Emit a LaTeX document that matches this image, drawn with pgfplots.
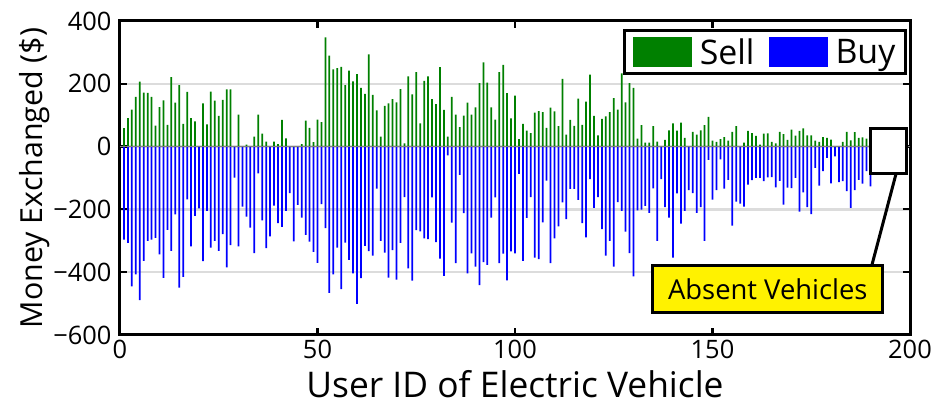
\documentclass[border=0pt]{standalone}
\usepackage{pgfplots}
\pgfplotsset{compat=1.18}
\usepackage{pgfplotstable}
\usepackage{fontspec}
\setmainfont{Open Sans}
\definecolor{sellgreen}{RGB}{0,128,0}
\definecolor{buyblue}{RGB}{0,0,255}
\definecolor{gridgray}{RGB}{220,220,220}

\pgfplotstableread{
u sell buy
1 59 -296
2 91 -307
3 118 -445
4 158 -407
5 207 -489
6 172 -364
7 171 -300
8 158 -296
9 67 -291
10 126 -343
11 147 -418
12 69 -265
13 221 -332
14 140 -216
15 196 -449
16 72 -415
17 174 -168
18 91 -318
19 80 -221
20 0 -197
21 138 -365
22 71 -205
23 175 -322
24 146 -300
25 98 -332
26 149 -279
27 182 -385
28 182 -314
29 0 -99
30 102 -318
31 0 -191
32 6 -223
33 0 -258
34 32 -339
35 102 -85
36 41 -235
37 16 -323
38 0 -286
39 16 -188
40 8 -244
41 85 -256
42 26 -205
43 0 -148
44 0 -302
45 0 -186
46 8 -226
47 83 -281
48 60 -303
49 14 -335
50 86 -370
51 78 -183
52 348 -260
53 290 -466
54 246 -407
55 250 -322
56 254 -454
57 196 -306
58 242 -361
59 208 -404
60 231 -501
61 187 -419
62 168 -316
63 294 -333
64 165 -347
65 115 -134
66 32 -300
67 130 -338
68 138 -417
69 151 -330
70 141 -424
71 183 -307
72 10 -161
73 224 -388
74 166 -427
75 237 -266
76 74 -270
77 209 -292
78 224 -295
79 151 -162
80 135 -304
81 253 -357
82 117 -412
83 32 -28
84 158 -242
85 102 -371
86 62 -90
87 99 -212
88 140 -404
89 102 -340
90 125 -382
91 202 -441
92 268 -368
93 204 -377
94 125 -226
95 86 -162
96 237 -371
97 260 -341
98 170 -426
99 90 -334
100 162 -340
101 24 -87
102 72 -364
103 51 -227
104 43 -161
105 108 -354
106 113 -358
107 110 -241
108 60 -108
109 124 -371
110 112 -292
111 65 -254
112 216 -178
113 38 -231
114 85 -135
115 66 -135
116 153 -170
117 69 -244
118 143 -289
119 229 -104
120 98 -195
121 36 -161
122 88 -263
123 96 -347
124 110 -300
125 154 -382
126 118 -177
127 233 -205
128 141 -271
129 202 -339
130 187 -413
131 25 -203
132 68 -201
133 13 -189
134 13 -211
135 65 -133
136 16 -300
137 0 -104
138 21 -193
139 52 -226
140 74 -354
141 51 -149
142 76 -245
143 28 -205
144 0 -139
145 47 -148
146 38 -211
147 52 -193
148 68 -300
149 95 -42
150 19 -169
151 15 -139
152 24 -41
153 30 -134
154 19 -106
155 47 -252
156 65 -175
157 0 -182
158 13 -191
159 50 -121
160 43 -107
161 34 -100
162 6 -100
163 41 -110
164 42 -98
165 15 -97
166 10 -130
167 47 -109
168 40 -185
169 21 -131
170 54 -132
171 35 -100
172 50 -207
173 58 -146
174 36 -193
175 36 -215
176 19 -68
177 15 -124
178 30 -78
179 28 -36
180 22 -117
181 0 -31
182 0 -113
183 15 -110
184 47 -142
185 20 -195
186 46 -139
187 28 -106
188 29 -118
189 25 -78
190 0 -127
}\datatable

\begin{document}
\begin{tikzpicture}
\begin{axis}[
  scale only axis,
  width=790bp, height=314bp,
  xmin=0, xmax=200, ymin=-600, ymax=400,
  xtick={0,50,100,150,200},
  ytick={-600,-400,-200,0,200,400},
  yticklabels={−600,−400,−200,0,200,400},
  xticklabels={0,50,100,150,200},
  tick align=inside, tick pos=both,
  major tick length=7bp,
  every tick/.style={black, line width=2.2bp},
  axis line style={line width=3bp, black},
  ymajorgrids,
  grid style={line width=2.5bp, gridgray},
  tick label style={font=\fontsize{25.5}{29}\selectfont},
  yticklabel style={xshift=-5bp},
  xticklabel style={yshift=-2bp},
  xlabel={User ID of Electric Vehicle},
  ylabel={Money Exchanged (\$)},
  x label style={at={(axis description cs:0.5,-0.158)}, anchor=center, inner sep=0pt, font=\fontsize{35.5}{38}\selectfont},
  y label style={at={(axis description cs:-0.108,0.5)}, anchor=center, font=\fontsize{30.5}{34}\selectfont},
  legend columns=2,
  legend style={at={(axis description cs:0.996,0.974)}, anchor=north east,
    draw=black, line width=3bp, fill=white,
    font=\fontsize{34}{37}\selectfont,
    inner xsep=8bp, inner ysep=6bp,
    /tikz/every odd column/.append style={column sep=6bp},
    /tikz/every even column/.append style={column sep=12bp}},
  legend image code/.code={\fill[#1] (0bp,-15bp) rectangle (59bp,15bp);},
]
\addplot[ybar, bar width=0.45, bar shift=0pt, fill=sellgreen, draw=none] table[x=u, y=sell] {\datatable};
\addlegendentry{Sell}
\addplot[ybar, bar width=0.45, bar shift=0pt, fill=buyblue, draw=none] table[x=u, y=buy] {\datatable};
\addlegendentry{Buy}
\draw[gray, line width=1.2bp] (axis cs:0,0) -- (axis cs:200,0);
\draw[line width=3bp, fill=white] (axis cs:190,-85) rectangle (axis cs:199,58);
\draw[line width=3bp] (axis cs:196.5,-85) -- (axis cs:190.3,-380);
\node[draw=black, line width=3bp, fill=yellow, minimum width=230bp, minimum height=47bp, inner sep=0pt, font=\fontsize{27.5}{30}\selectfont] at (axis cs:164,-455) {Absent Vehicles};
\coordinate (SW) at (rel axis cs:0,0);
\coordinate (NE) at (rel axis cs:1,1);
\end{axis}
\pgfresetboundingbox
\path ([shift={(-120bp,-70bp)}]SW) rectangle ([shift={(27bp,21bp)}]NE);
\end{tikzpicture}
\end{document}
